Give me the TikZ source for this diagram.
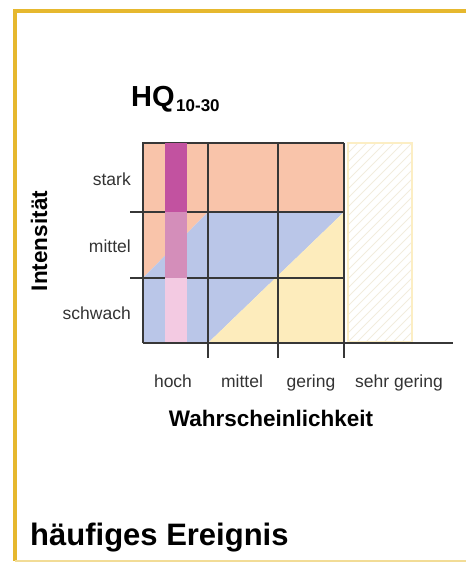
\documentclass[tikz,border=0pt]{standalone}
\usepackage{fontspec}
\setmainfont{Liberation Sans}
\usepackage{xcolor}
\usetikzlibrary{arrows,calc,positioning}
\definecolor{rahmen}{RGB}{230,184,46}
\definecolor{rahmenhell}{RGB}{242,220,150}
\definecolor{lachs}{RGB}{249,196,170}
\definecolor{blau}{RGB}{186,198,232}
\definecolor{gelb}{RGB}{253,236,188}
\definecolor{pinkdunkel}{RGB}{194,82,160}
\definecolor{pinkmittel}{RGB}{212,142,186}
\definecolor{pinkhell}{RGB}{243,202,226}
\definecolor{gitter}{RGB}{55,55,55}
\definecolor{schraffur}{RGB}{242,236,222}
\definecolor{schraffrand}{RGB}{252,238,196}

\begin{document}
\begin{tikzpicture}[x=1pt,y=-1pt]
			\tikzstyle{gitterlinie}=[line width=1.4pt, gitter]
			\tikzstyle{klasse}=[font=\fontsize{17.5}{20}\selectfont, text=black!80, inner sep=0pt]
			\tikzstyle{achse}=[font=\bfseries\fontsize{22.5}{26}\selectfont, inner sep=0pt]
			\useasboundingbox (0,0) rectangle (466,564);
			% Rahmen
			\draw [line width=4pt, rahmen] (466,11) -- (15,11) -- (15,561);
			\draw [line width=2pt, rahmenhell] (15,561) -- (466,561);
			% Flaechen
			\fill [lachs] (143,143) -- (344,143) -- (344,212) -- (208,212) -- (143,278) -- cycle;
			\fill [blau] (143,278) -- (208,212) -- (344,212) -- (208,343) -- (143,343) -- cycle;
			\fill [gelb] (344,212) -- (344,343) -- (208,343) -- cycle;
			% sehr gering, schraffiert
			\begin{scope}
				\clip (348,143) rectangle (412,342);
				\foreach \k in {-23,...,8}
					\draw [line width=0.9pt, schraffur] (348+\k*9,342) -- ++(220,-220);
			\end{scope}
			\draw [line width=2pt, schraffrand] (348,143) rectangle (412,342);
			% Gitter
			\draw [gitterlinie] (130,212) -- (344,212);
			\draw [gitterlinie] (130,278) -- (344,278);
			\draw [gitterlinie] (143,343) -- (143,143) -- (344,143);
			\foreach \xx in {208,278,344}
				\draw [gitterlinie] (\xx,143) -- (\xx,358);
			% Balken hoch
			\fill [pinkdunkel] (165,143) rectangle (187,212);
			\fill [pinkmittel] (165,212) rectangle (187,278);
			\fill [pinkhell] (165,278) rectangle (187,343);
			\draw [gitterlinie] (143,343) -- (453,343);
			% Beschriftung
			\node [klasse, anchor=east] (stark) at (131,179) {stark};
			\node [klasse, anchor=east] (mittelI) at (131,246) {mittel};
			\node [klasse, anchor=east] (schwach) at (131,313) {schwach};
			\node [klasse, anchor=base] (hoch) at (173,387) {hoch};
			\node [klasse, anchor=base] (mittelW) at (242,387) {mittel};
			\node [klasse, anchor=base] (gering) at (311,387) {gering};
			\node [klasse, anchor=base] (sehrgering) at (399,387) {sehr gering};
			\node [achse, anchor=base] (wahrsch) at (271,426) {Wahrscheinlichkeit};
			\node [achse, anchor=base, rotate=90] (intens) at (47,241) {Intensität};
			\node [achse, anchor=base west, font=\bfseries\fontsize{29}{32}\selectfont] (hq) at (131,107)
				{HQ\kern1.5pt\raisebox{-4.7pt}{\fontsize{17}{20}\selectfont 10-30}};
			\node [achse, anchor=base west, font=\bfseries\fontsize{31}{34}\selectfont] (ereignis) at (30,545) {häufiges Ereignis};
		\end{tikzpicture}
\end{document}
